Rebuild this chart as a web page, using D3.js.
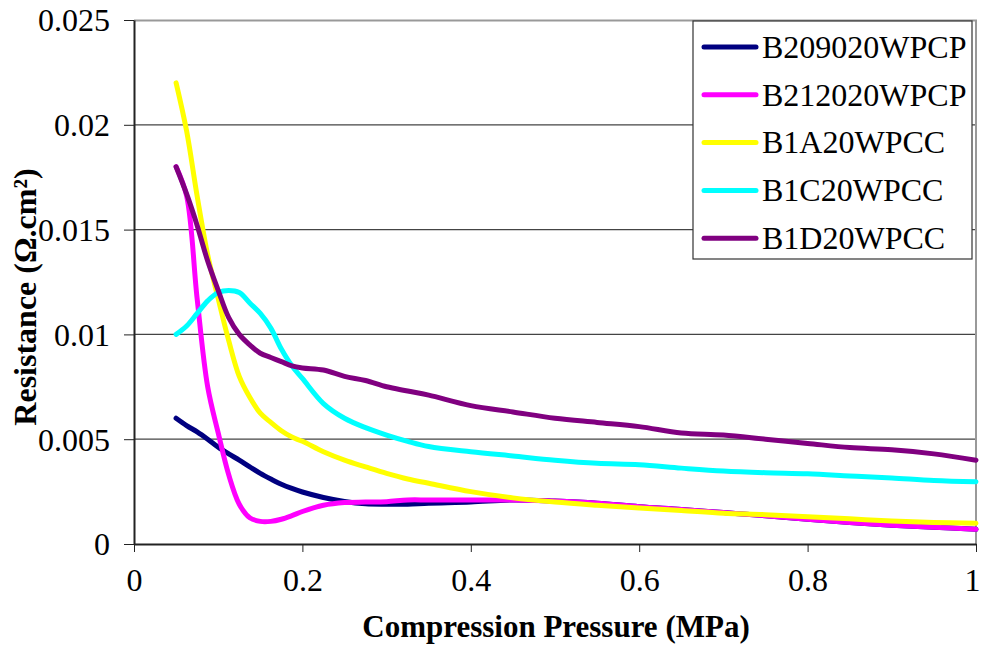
<!DOCTYPE html>
<html>
<head>
<meta charset="utf-8">
<script src="https://cdn.jsdelivr.net/npm/d3@7"></script>
<style>
  body { margin: 0; background: #fff; }
  svg { display: block; }
</style>
</head>
<body>
<div id="chart"></div>
<script>
// compression pressure (MPa), shared by all series
const pressure = [0.05, 0.0625, 0.075, 0.0875, 0.1, 0.1125, 0.125, 0.1375, 0.15, 0.1625, 0.175, 0.1875,
  0.2, 0.225, 0.25, 0.275, 0.3, 0.325, 0.35, 0.4, 0.45, 0.5, 0.55, 0.6, 0.65, 0.7, 0.75, 0.8, 0.85, 0.9, 0.95, 1.0];

const seriesNames = ["B209020WPCP", "B212020WPCP", "B1A20WPCC", "B1C20WPCC", "B1D20WPCC"];
const seriesColors = ["#000080", "#ff00ff", "#ffff00", "#00ffff", "#800080"];

const b209020 = [0.0060, 0.00565, 0.00535, 0.0050, 0.00462, 0.0043, 0.0040, 0.00368, 0.00337, 0.0031, 0.00285, 0.00265,
  0.00248, 0.00222, 0.00203, 0.00192, 0.0019, 0.0019, 0.00195, 0.0020, 0.0021, 0.00205, 0.00195, 0.00178, 0.00165,
  0.0015, 0.00135, 0.00118, 0.00103, 0.0009, 0.0008, 0.0007];
const b212020 = [0.0180, 0.0166, 0.0117, 0.0075, 0.0053, 0.0033, 0.0019, 0.00125, 0.00108, 0.00108, 0.00118, 0.00135,
  0.00155, 0.00185, 0.00198, 0.0020, 0.00202, 0.0021, 0.0021, 0.0021, 0.0021, 0.00205, 0.00195, 0.00178, 0.00165,
  0.0015, 0.00135, 0.00118, 0.00103, 0.0009, 0.0008, 0.0007];
const b1a20 = [0.0220, 0.0197, 0.0166, 0.0138, 0.0117, 0.0097, 0.0080, 0.0070, 0.00624, 0.0058, 0.0054, 0.0051,
  0.0049, 0.0044, 0.0040, 0.00368, 0.00337, 0.0031, 0.0029, 0.0025, 0.0022, 0.0020, 0.00185, 0.00172, 0.0016,
  0.00147, 0.0014, 0.0013, 0.0012, 0.0011, 0.00103, 0.00099];
const b1c20 = [0.0100, 0.0104, 0.0110, 0.0116, 0.0120, 0.0121, 0.0120, 0.0115, 0.0110, 0.0103, 0.0093, 0.0085,
  0.0079, 0.0067, 0.0060, 0.00555, 0.0052, 0.0049, 0.00465, 0.0044, 0.0042, 0.0040, 0.00385, 0.00378, 0.00362,
  0.00348, 0.0034, 0.00335, 0.00325, 0.00315, 0.00303, 0.00297];
const b1d20 = [0.0180, 0.0167, 0.0152, 0.0135, 0.0121, 0.0108, 0.0100, 0.0095, 0.0091, 0.0089, 0.0087, 0.0085,
  0.0084, 0.0083, 0.0080, 0.0078, 0.0075, 0.0073, 0.0071, 0.0066, 0.0063, 0.0060, 0.0058, 0.0056, 0.0053,
  0.0052, 0.0050, 0.0048, 0.0046, 0.0045, 0.0043, 0.0040];
const seriesValues = [b209020, b212020, b1a20, b1c20, b1d20];

const xTicks = [0, 0.2, 0.4, 0.6, 0.8, 1];
const yTicks = [0, 0.005, 0.01, 0.015, 0.02, 0.025];

const W = 982, H = 645;
const margin = { top: 20, right: 6, bottom: 101, left: 134 };
const width = W - margin.left - margin.right;
const height = H - margin.top - margin.bottom;
const font = "'Liberation Serif', 'Times New Roman', serif";

const svg = d3.select("#chart").append("svg")
  .attr("width", W)
  .attr("height", H);

const x = d3.scaleLinear().domain([0, 1]).range([0, width]);
const y = d3.scaleLinear().domain([0, 0.025]).range([height, 0]);

const g = svg.append("g").attr("transform", `translate(${margin.left},${margin.top})`);

// grid lines
g.selectAll(".grid")
  .data(yTicks.filter(d => d > 0 && d < 0.025))
  .join("line")
  .attr("x1", 0).attr("x2", width)
  .attr("y1", d => y(d)).attr("y2", d => y(d))
  .attr("stroke", "#444").attr("stroke-width", 1.2);

// plot frame (top and right)
g.append("path")
  .attr("d", `M0,0.5H${width}V${height}`)
  .attr("fill", "none")
  .attr("stroke", "#999").attr("stroke-width", 2);

// series lines
const line = d3.line()
  .x((d, i) => x(pressure[i]))
  .y(d => y(d))
  .curve(d3.curveCatmullRom.alpha(0.5));

g.selectAll(".series")
  .data(seriesValues)
  .join("path")
  .attr("fill", "none")
  .attr("stroke", (d, i) => seriesColors[i])
  .attr("stroke-width", 5)
  .attr("stroke-linejoin", "round")
  .attr("stroke-linecap", "round")
  .attr("d", line);

// axes
const xAxis = g.append("g")
  .attr("transform", `translate(0,${height})`)
  .call(d3.axisBottom(x).tickValues(xTicks).tickSize(8).tickSizeOuter(0).tickFormat(d3.format("~g")));
const yAxis = g.append("g")
  .call(d3.axisLeft(y).tickValues(yTicks).tickSize(10).tickSizeOuter(0).tickFormat(d3.format("~g")));

[xAxis, yAxis].forEach(a => {
  a.select(".domain").attr("stroke", "#222").attr("stroke-width", 2);
  a.selectAll(".tick line").attr("stroke", "#222").attr("stroke-width", 1);
  a.selectAll(".tick text")
    .attr("font-family", font)
    .attr("font-size", "32px")
    .attr("fill", "#000");
});
xAxis.selectAll(".tick text").attr("dy", null).attr("y", 47)
  .attr("dx", d => d === 1 ? -4 : 0);
yAxis.selectAll(".tick text").attr("x", -24).attr("dy", "0.34em");

// axis titles
svg.append("text")
  .attr("x", 556)
  .attr("y", 637)
  .attr("text-anchor", "middle")
  .attr("font-family", font)
  .attr("font-weight", "bold")
  .attr("font-size", "31px")
  .text("Compression Pressure (MPa)");

svg.append("text")
  .attr("transform", "translate(36,297) rotate(-90)")
  .attr("text-anchor", "middle")
  .attr("font-family", font)
  .attr("font-weight", "bold")
  .attr("font-size", "32px")
  .text("Resistance (Ω.cm²)");

// legend
const legend = svg.append("g").attr("transform", "translate(693,21)");
legend.append("rect")
  .attr("width", 279).attr("height", 238)
  .attr("fill", "#fff")
  .attr("stroke", "#333").attr("stroke-width", 1.2);

const items = legend.selectAll(".legend-item")
  .data(seriesNames)
  .join("g")
  .attr("transform", (d, i) => `translate(0,${26 + i * 47.8})`);

items.append("line")
  .attr("x1", 11).attr("x2", 63)
  .attr("stroke", (d, i) => seriesColors[i])
  .attr("stroke-width", 5)
  .attr("stroke-linecap", "round");

items.append("text")
  .attr("x", 69)
  .attr("dy", "0.34em")
  .attr("font-family", font)
  .attr("font-size", "32px")
  .attr("fill", "#000")
  .text(d => d);
</script>
</body>
</html>
